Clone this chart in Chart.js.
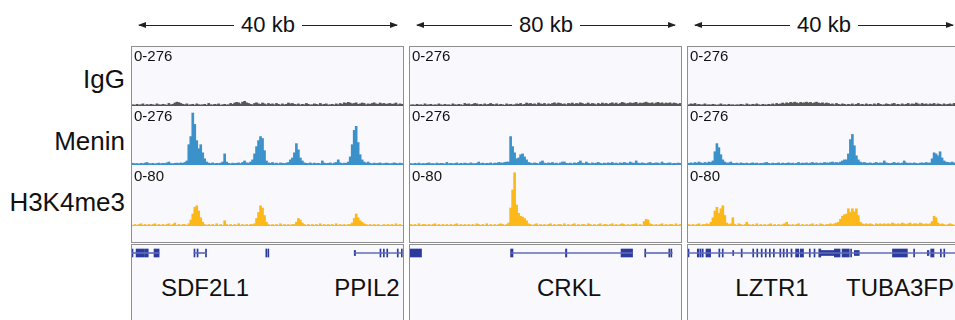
<!DOCTYPE html>
<html>
<head>
<meta charset="utf-8">
<script src="https://cdn.jsdelivr.net/npm/chart.js@4.4.0/dist/chart.umd.min.js"></script>
<style>
  html, body { margin: 0; padding: 0; background: #fff; }
  body { width: 955px; height: 320px; overflow: hidden; position: relative;
         font-family: "Liberation Sans", Arial, sans-serif; color: #111; }
  .box { position: absolute; border: 1px solid #8f8f8f; background: #f9f9fd; overflow: hidden; }
  .box canvas { position: absolute; left: 0; }
  .range { position: absolute; left: 2px; font-size: 15px; line-height: 15px; }
  .rowlab { position: absolute; left: 0; width: 125px; text-align: right; font-size: 26px; line-height: 26px; }
  .gene { position: absolute; font-size: 24px; line-height: 24px; white-space: nowrap; }
  .scale { position: absolute; top: 14px; height: 22px; display: flex; align-items: center; }
  .scale span { font-size: 22px; line-height: 22px; padding: 0 7px; }
  .scale i { flex: 1; height: 1px; background: #222; position: relative; }
  .scale i.l::before, .scale i.r::after { content: ""; position: absolute; top: -3px; border-top: 3.5px solid transparent; border-bottom: 3.5px solid transparent; }
  .scale i.l::before { left: -1px; border-right: 8px solid #222; }
  .scale i.r::after { right: -1px; border-left: 8px solid #222; }
</style>
</head>
<body>
<div class="rowlab" style="top:66px">IgG</div>
<div class="rowlab" style="top:128px">Menin</div>
<div class="rowlab" style="top:189px">H3K4me3</div>
<div id="root"></div>
<script>
// signal bins, 136 per region (IgG and Menin scaled 0-276, H3K4me3 0-80)
const igg1 = [6,4,8,5,6,10,4,7,5,8, 6,4,10,6,5,8,6,4,12,6, 8,14,18,16,12,8,6,10,5,6, 8,4,10,6,5,6,8,4,12,6,
  5,8,6,10,4,6,8,5,6,12, 8,14,17,15,10,18,22,15,12,8, 6,12,15,10,8,14,10,6,12,8, 10,6,12,8,5,10,6,8,14,10,
  12,8,6,10,5,8,6,12,8,5, 6,10,8,5,12,6,8,10,5,6, 8,5,10,6,12,8,15,12,17,14, 10,12,15,8,10,14,12,6,10,8,
  12,15,10,8,14,10,12,8,10,12, 8,10,14,6,10,8];
const menin1 = [8,6,7,5,8,6,9,12,7,6, 8,5,7,9,6,8,7,10,14,7, 6,8,9,7,10,8,12,19,95,133,
  243,190,114,76,95,57,29,14,9,7, 10,6,8,7,9,14,52,14,8,6, 9,7,8,10,7,12,19,10,9,14,
  24,52,86,114,133,124,67,19,10,8, 12,7,9,6,10,8,7,9,12,24, 33,57,100,71,33,19,10,8,7,10,
  6,9,7,8,6,19,9,7,8,10, 6,9,12,24,10,7,9,8,14,38, 95,162,181,105,48,24,14,9,14,8,
  6,9,7,8,10,6,7,9,8,6, 7,10,8,6,9,7];
const h3k1 = [1,2,1,2,3,1,2,1,2,1, 2,3,1,2,1,2,1,2,3,1, 2,4,1,2,1,2,2,1,3,8, 16,25,27,20,11,5,2,1,2,1,
  2,1,3,1,2,1,7,2,1,2, 1,2,1,3,1,2,1,2,1,2, 2,3,10,18,27,24,14,5,2,1, 2,1,2,1,3,1,2,1,2,1,
  2,2,5,10,8,4,2,1,2,1, 2,1,2,1,3,1,2,1,2,1, 2,1,3,1,2,1,2,1,2,2, 4,10,16,11,7,5,3,2,1,2,
  1,2,1,2,1,1,2,1,2,1, 2,1,3,1,2,1];

const igg2 = [5,6,4,8,5,6,4,10,5,6, 8,4,6,5,10,6,4,8,5,6, 4,10,6,5,8,6,4,12,8,10, 6,8,12,10,6,8,5,10,6,8,
  12,8,6,10,5,8,6,4,10,6, 8,5,6,10,8,12,6,8,14,10, 12,8,10,6,14,10,8,12,6,10, 8,12,15,10,14,12,8,10,6,12,
  10,14,8,12,10,15,12,8,10,14, 8,12,10,6,12,8,14,10,12,8, 12,15,10,14,8,12,17,14,10,12, 15,12,14,17,10,14,12,15,18,14,
  12,15,10,14,17,12,15,10,14,12, 15,10,14,12,8,12];
const menin2 = [7,5,8,6,9,5,7,6,8,10, 6,7,5,9,6,8,7,5,12,6, 8,6,7,10,5,8,6,9,7,6, 10,7,6,8,14,7,9,6,8,7,
  10,6,9,8,12,10,9,12,14,14, 133,86,57,29,33,48,52,38,24,12, 9,7,10,8,6,14,19,9,7,10,
  8,12,7,9,6,10,14,14,8,7, 9,6,10,8,12,19,9,7,14,8, 6,10,7,9,12,8,6,9,7,10,
  8,12,7,9,6,10,8,12,9,7, 14,10,8,19,9,7,10,8,6,9, 12,7,8,10,9,6,14,8,7,9, 10,6,8,7,9,8];
const h3k2 = [2,1,2,1,3,1,2,2,1,2, 1,2,3,1,2,1,2,1,2,1, 2,1,2,3,1,2,1,2,1,2, 1,2,1,3,2,1,2,1,3,1,
  2,1,2,1,2,3,2,1,2,4, 24,48,71,28,17,13,12,10,7,3, 2,1,2,3,1,2,1,2,1,2, 3,1,2,1,2,2,1,3,1,2,
  1,2,3,1,2,1,2,2,1,3, 2,1,2,1,2,3,1,2,2,1, 2,3,1,2,1,2,3,2,1,2, 1,2,2,3,1,2,1,6,9,8,
  3,2,1,2,1,2,3,1,2,1, 2,2,1,3,1,2];

const igg3 = [6,10,8,12,6,8,5,6,10,5, 6,5,8,6,4,6,10,5,6,4, 8,5,6,4,6,5,8,6,4,10, 6,5,8,6,10,6,4,8,6,5,
  8,6,10,6,12,8,10,14,10,15, 12,17,14,18,15,12,17,14,15,18, 14,17,12,15,18,14,12,15,10,14, 12,8,10,6,12,8,6,10,8,5,
  8,6,10,5,8,12,6,8,5,10, 6,8,5,10,6,12,8,5,6,10, 8,6,10,12,6,8,5,10,6,8, 12,6,10,8,14,10,6,12,8,10,
  6,10,8,12,6,10,8,5,10,6, 8,10,6,12,8,6];
const menin3 = [8,10,7,12,9,14,10,8,12,9, 14,12,19,62,100,81,48,24,14,9, 10,14,8,7,9,6,10,8,7,9,
  6,8,10,7,9,6,8,7,10,12, 8,6,9,7,8,10,6,9,7,8, 10,7,9,6,8,12,7,9,8,10, 7,9,12,8,10,7,9,8,12,10,
  9,12,14,10,12,10,14,19,24,24, 52,119,143,90,43,24,14,10,12,9, 8,10,7,9,12,8,10,9,19,10,
  8,7,9,12,8,10,7,9,19,10, 8,9,7,10,8,6,9,10,8,12, 9,10,29,57,52,43,62,33,19,14, 12,10,14,10,9,8];
const h3k3 = [2,1,2,1,2,3,1,2,2,3, 2,5,11,20,25,17,23,27,14,4, 2,3,11,2,1,3,2,1,2,5, 2,1,2,1,3,1,2,1,2,1,
  2,3,1,2,1,2,1,2,3,5, 2,1,2,1,2,3,1,2,1,2, 1,2,3,1,2,1,3,2,1,2, 2,3,2,3,4,5,9,13,15,16,
  23,18,23,19,23,14,5,3,2,3, 2,3,2,1,3,2,3,2,3,2, 3,2,4,3,2,3,2,4,3,2, 3,4,2,3,3,2,4,3,2,3,
  2,3,6,13,11,4,2,3,2,1, 2,3,2,1,2,2];

// gene models, kb from region start
const introns1 = [[0, 4.0], [9.15, 11.0], [32.8, 39.9]];
const utr1 = [[32.8, 33.0]];
const exons1 = [[0, 0.15], [0.6, 1.85], [1.95, 2.4], [3.25, 4.0], [9.15, 9.3], [9.6, 9.75], [10.85, 11.0],
  [19.75, 19.9], [20.05, 20.2], [36.6, 36.75], [37.1, 37.25], [37.6, 37.75], [39.15, 39.3], [39.75, 39.9]];
const introns2 = [[29.7, 65.6], [69.3, 77.4]];
const utr2 = [];
const exons2 = [[0, 3.4], [29.7, 30.4], [45.9, 46.3], [62.3, 65.7], [69.3, 69.6], [76.4, 76.7], [77.0, 77.3]];
const introns3 = [[0, 40]];
const utr3 = [[6.6, 6.75], [19.6, 21.6], [24.55, 25.28], [35.32, 35.57]];
const exons3 = [[0, 0.15], [1.37, 1.62], [1.76, 1.91], [2.06, 2.25], [2.65, 3.34], [4.55, 4.7], [5.05, 5.2],
  [7.85, 8.0], [9.55, 9.7], [10.15, 10.3], [10.8, 10.95], [11.4, 11.55], [12.0, 12.15], [12.6, 12.75],
  [13.55, 13.7], [14.05, 14.2], [14.55, 14.7], [15.2, 15.35], [15.88, 16.36], [16.57, 17.05], [17.9, 18.05],
  [18.6, 18.75], [19.3, 19.6], [21.6, 22.45], [22.74, 23.81], [24.0, 24.15], [30.18, 32.38], [33.3, 33.45],
  [35.82, 36.31], [37.25, 37.4], [37.75, 37.9]];

const regions = [
  { left: 131, span: 40, scale: '40 kb', igg: igg1, menin: menin1, h3: h3k1, introns: introns1, utr: utr1, exons: exons1 },
  { left: 409, span: 80, scale: '80 kb', igg: igg2, menin: menin2, h3: h3k2, introns: introns2, utr: utr2, exons: exons2 },
  { left: 687, span: 40, scale: '40 kb', igg: igg3, menin: menin3, h3: h3k3, introns: introns3, utr: utr3, exons: exons3 }
];
const genes = [
  { name: 'SDF2L1', x: 205 }, { name: 'PPIL2', x: 367 }, { name: 'CRKL', x: 569 },
  { name: 'LZTR1', x: 772 }, { name: 'TUBA3FP', x: 900 }
];

const GRAY = '#555555', BLUE = '#3b91c9', GOLD = '#fcb81a', NAVY = '#2b3a9c';
const W = 271;

const root = document.getElementById('root');

function el(tag, css, text) {
  const e = document.createElement(tag);
  if (css) e.style.cssText = css;
  if (text) e.textContent = text;
  root.appendChild(e);
  return e;
}

function canvasIn(box, top, h) {
  const c = document.createElement('canvas');
  c.width = W;
  c.height = h;
  c.style.top = top + 'px';
  box.appendChild(c);
  return c;
}

const quiet = {
  responsive: false,
  animation: false,
  events: [],
  layout: { padding: 0 },
  plugins: { legend: { display: false }, tooltip: { enabled: false } }
};

function signal(canvas, values, color, max) {
  return new Chart(canvas, {
    type: 'bar',
    data: {
      labels: values.map((v, i) => i),
      datasets: [{ data: values, backgroundColor: color, borderWidth: 0, barPercentage: 1, categoryPercentage: 1 }]
    },
    options: {
      ...quiet,
      scales: { x: { display: false }, y: { display: false, min: 0, max: max } }
    }
  });
}

function geneTrack(canvas, r) {
  const rows = (list) => list.map(v => ({ x: v, y: 'g' }));
  return new Chart(canvas, {
    type: 'bar',
    data: {
      labels: ['g'],
      datasets: [
        { data: rows(r.introns), backgroundColor: '#5f6cb8', barThickness: 1, grouped: false },
        { data: rows(r.utr), backgroundColor: NAVY, barThickness: 5, grouped: false },
        { data: rows(r.exons), backgroundColor: NAVY, barThickness: 8, grouped: false }
      ]
    },
    options: {
      ...quiet,
      indexAxis: 'y',
      scales: {
        x: { type: 'linear', display: false, min: 0, max: r.span },
        y: { display: false }
      }
    }
  });
}

regions.forEach(r => {
  const sc = el('div', `left:${r.left + 8}px;width:258px`);
  sc.className = 'scale';
  sc.innerHTML = `<i class="l"></i><span>${r.scale}</span><i class="r"></i>`;

  const box = el('div', `left:${r.left}px;top:46px;width:${W}px;height:195px`);
  box.className = 'box';
  signal(canvasIn(box, 0, 59), r.igg, GRAY, 276);
  signal(canvasIn(box, 59, 59), r.menin, BLUE, 276);
  signal(canvasIn(box, 119, 60), r.h3, GOLD, 80);
  [['0-276', 1], ['0-276', 61], ['0-80', 121]].forEach(([t, y]) => {
    const s = document.createElement('div');
    s.className = 'range';
    s.style.top = y + 'px';
    s.textContent = t;
    box.appendChild(s);
  });

  const gbox = el('div', `left:${r.left}px;top:244px;width:${W}px;height:90px`);
  gbox.className = 'box';
  geneTrack(canvasIn(gbox, 0, 16), r);
});

genes.forEach(g => {
  const s = el('div', `left:${g.x}px;top:276px;transform:translateX(-50%)`, g.name);
  s.className = 'gene';
});
</script>
</body>
</html>
